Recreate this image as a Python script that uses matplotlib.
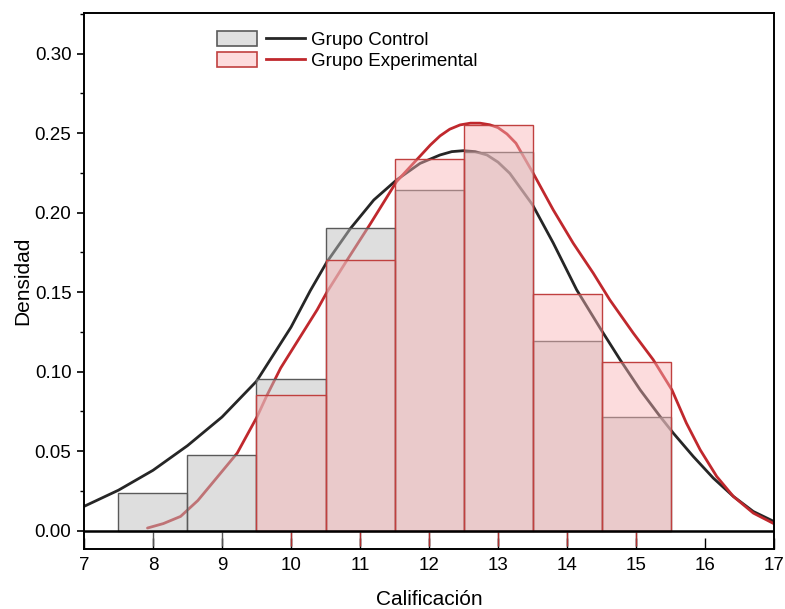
import numpy as np
import matplotlib
matplotlib.use("Agg")
import matplotlib.pyplot as plt
from matplotlib.patches import Patch
from matplotlib.lines import Line2D
from matplotlib.legend_handler import HandlerTuple

plt.rcParams['font.family'] = ['Liberation Sans', 'DejaVu Sans']

# histogram bins (centres) and densities
ctrl_bins = [8, 9, 10, 11, 12, 13, 14, 15]
ctrl_dens = [0.0238, 0.0476, 0.0952, 0.1905, 0.2143, 0.2381, 0.1190, 0.0714]
exp_bins = [10, 11, 12, 13, 14, 15]
exp_dens = [0.0851, 0.1702, 0.2340, 0.2553, 0.1489, 0.1064]

# density curves
ctrl_x = [7.0, 7.5, 8.0, 8.5, 9.0, 9.5, 10.0, 10.28, 10.52, 10.86, 11.2, 11.53, 11.87,
          12.16, 12.33, 12.5, 12.67, 12.84, 13.0, 13.17, 13.5, 13.8, 14.14, 14.5, 14.77,
          15.06, 15.35, 15.54, 15.83, 16.12, 16.41, 16.7, 17.0]
ctrl_y = [0.0153, 0.0255, 0.038, 0.0535, 0.0715, 0.094, 0.128, 0.151, 0.169, 0.190,
          0.208, 0.2206, 0.231, 0.2363, 0.2384, 0.239, 0.2384, 0.2363, 0.2318, 0.2248,
          0.205, 0.181, 0.1515, 0.126, 0.1075, 0.0886, 0.0718, 0.0614, 0.0467, 0.0331,
          0.0216, 0.0121, 0.0058]
exp_x = [7.92, 8.15, 8.4, 8.65, 8.88, 9.22, 9.51, 9.65, 9.85, 10.38, 10.52, 10.81, 11.15,
         11.53, 11.82, 12.02, 12.16, 12.3, 12.45, 12.6, 12.74, 12.88, 13.0, 13.13, 13.26,
         13.51, 13.8, 14.09, 14.38, 14.62, 14.96, 15.25, 15.52, 15.73, 15.93, 16.17,
         16.41, 16.7, 17.0]
exp_y = [0.0017, 0.0045, 0.009, 0.019, 0.031, 0.0488, 0.0718, 0.085, 0.1023, 0.139,
         0.150, 0.170, 0.193, 0.2196, 0.2332, 0.2426, 0.2483, 0.2525, 0.2552, 0.2563,
         0.2563, 0.2553, 0.2535, 0.2495, 0.2437, 0.2248, 0.2018, 0.1808, 0.162, 0.1452,
         0.1243, 0.1075, 0.0886, 0.0677, 0.0509, 0.0341, 0.0216, 0.0111, 0.0044]

labels = ['Grupo Control', 'Grupo Experimental']

ctrl_face = (0.75, 0.75, 0.75, 0.5)
ctrl_edge = '#5a5a5a'
exp_face = (0.976, 0.70, 0.71, 0.45)
exp_edge = '#c0403f'
ctrl_line = '#262626'
exp_line = '#c0282d'

fig = plt.figure(figsize=(7.85, 6.09), dpi=100)
ax = fig.add_axes([0.107, 0.0985, 0.879, 0.8802])

ax.plot(ctrl_x, ctrl_y, color=ctrl_line, lw=2, zorder=1, solid_capstyle='round',
        solid_joinstyle='round')
ax.plot(exp_x, exp_y, color=exp_line, lw=2, zorder=1.1, solid_capstyle='round',
        solid_joinstyle='round')

ax.bar(ctrl_bins, ctrl_dens, width=1.0, facecolor=ctrl_face, edgecolor=ctrl_edge,
       linewidth=1.0, zorder=2)
ax.bar(exp_bins, exp_dens, width=1.0, facecolor=exp_face, edgecolor=exp_edge,
       linewidth=1.0, zorder=3)

# rug ticks under the zero line
ax.vlines(ctrl_bins, -0.0099, -0.0008, color='#555555', lw=1.0, zorder=2)
ax.vlines(exp_bins, -0.0099, -0.0008, color='#b03030', lw=1.0, zorder=3)
ax.axhline(0, color='black', lw=1.8, zorder=4)

ax.set_xlim(7, 17)
ax.set_ylim(-0.0115, 0.3256)
ax.set_xticks(range(7, 18))
ax.set_yticks([0, 0.05, 0.10, 0.15, 0.20, 0.25, 0.30])
ax.set_yticklabels(['%.2f' % v for v in ax.get_yticks()])
ax.set_yticks(np.arange(0.025, 0.33, 0.05), minor=True)

ax.tick_params(axis='x', direction='in', length=8, width=1.0, labelsize=13.5, pad=6)
ax.tick_params(axis='y', direction='out', length=5, width=1.2, labelsize=13.5, pad=4)
ax.tick_params(axis='y', which='minor', direction='out', length=3, width=1.0)
for s in ax.spines.values():
    s.set_linewidth(1.4)

ax.set_xlabel('Calificación', fontsize=15, labelpad=11)
ax.set_ylabel('Densidad', fontsize=15, labelpad=2)

h1 = (Patch(facecolor='#e0e0e0', edgecolor=ctrl_edge, lw=1.2), Line2D([], [], color=ctrl_line, lw=2))
h2 = (Patch(facecolor='#fddcdd', edgecolor=exp_edge, lw=1.2), Line2D([], [], color=exp_line, lw=2))
ax.legend([h1, h2], labels, handler_map={tuple: HandlerTuple(ndivide=2, pad=0.48)},
          loc='upper left', bbox_to_anchor=(0.174, 0.99), frameon=False,
          fontsize=13.5, handlelength=4.7, handleheight=0.85, labelspacing=0.12,
          handletextpad=0.32, borderpad=0.2)

fig.savefig('out.png', dpi=100)
